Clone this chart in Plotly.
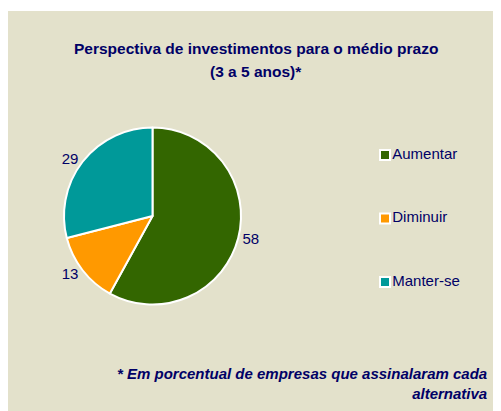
import plotly.graph_objects as go

categories = ["Aumentar", "Diminuir", "Manter-se"]
values = [58, 13, 29]
colors = ["#336600", "#FF9900", "#009999"]
title_lines = ["Perspectiva de investimentos para o médio prazo", "(3 a 5 anos)*"]
footnote = "* Em porcentual de empresas que assinalaram cada<br>alternativa"

# page has an 8px body margin, so the figure is a bit smaller than the window
W, H = 493, 403
NAVY = "#000066"
BEIGE = "#E3E1CB"
FONT = "Arial, Liberation Sans, sans-serif"

cx, cy, r = 144.5, 208, 88.5
fig = go.Figure()
fig.add_trace(go.Pie(
    labels=categories, values=values, sort=False, direction="clockwise", rotation=0,
    marker=dict(colors=colors, line=dict(color="white", width=2)),
    textinfo="value", textposition="outside",
    textfont=dict(family=FONT, size=15, color=NAVY),
    showlegend=False, hoverinfo="label+value",
    domain=dict(x=[(cx - r) / W, (cx + r) / W], y=[1 - (cy + r) / H, 1 - (cy - r) / H]),
))

# legend drawn as a marker+text scatter on hidden pixel-scaled axes
leg_x, leg_y0, leg_gap = 377, 147, 63.5
fig.add_trace(go.Scatter(
    x=[leg_x] * len(categories),
    y=[leg_y0 + i * leg_gap for i in range(len(categories))],
    mode="markers+text", text=categories, textposition="middle right",
    marker=dict(symbol="square", size=10, color=colors, line=dict(color="white", width=2)),
    textfont=dict(family=FONT, size=15, color=NAVY),
    showlegend=False, hoverinfo="text", cliponaxis=False,
))

fig.add_shape(type="rect", xref="paper", yref="paper", x0=0, x1=1, y0=1 - 3 / H, y1=1,
              fillcolor="white", line=dict(width=0), layer="below")

for line, yy in zip(title_lines, [40, 63]):
    fig.add_annotation(x=248 / W, y=1 - yy / H, xref="paper", yref="paper", text="<b>" + line + "</b>",
                       showarrow=False, font=dict(family=FONT, size=15.5, color=NAVY),
                       xanchor="center", yanchor="middle")
fig.add_annotation(x=481 / W, y=1 - 375 / H, xref="paper", yref="paper", text="<b><i>" + footnote + "</i></b>",
                   showarrow=False, align="right", font=dict(family=FONT, size=15, color=NAVY),
                   xanchor="right", yanchor="middle")

fig.update_layout(
    width=W, height=H, margin=dict(l=0, r=0, t=0, b=0),
    paper_bgcolor=BEIGE, plot_bgcolor="rgba(0,0,0,0)",
    xaxis=dict(visible=False, range=[0, W], fixedrange=True),
    yaxis=dict(visible=False, range=[H, 0], fixedrange=True),
    showlegend=False,
)
fig.write_html("out.html")
